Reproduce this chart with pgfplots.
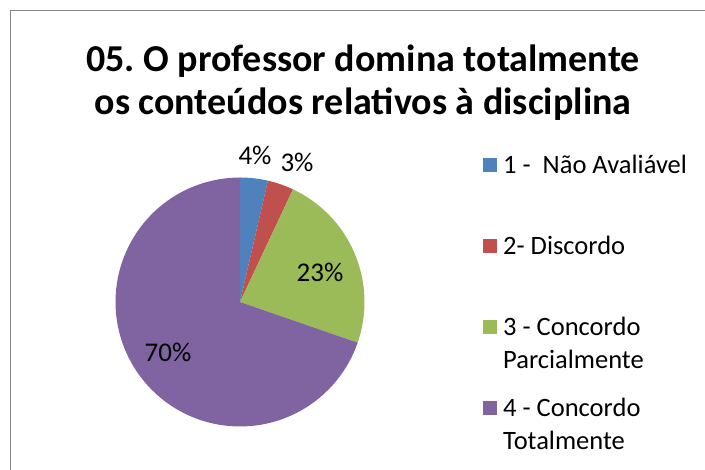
\documentclass[border=0pt]{standalone}
\usepackage{fontspec}
\setmainfont{Carlito}
\usepackage{pgfplots}
\pgfplotsset{compat=1.18}
\definecolor{c1}{HTML}{4F81BD}
\definecolor{c2}{HTML}{C0504D}
\definecolor{c3}{HTML}{9BBB59}
\definecolor{c4}{HTML}{8064A2}
\definecolor{framegray}{HTML}{868686}
\newcommand{\lent}[2]{\begin{tabular}[t]{@{}l@{}}#1\\#2\end{tabular}}
\begin{document}
\frenchspacing
\begin{tikzpicture}
\begin{axis}[at={(0,0)}, anchor=south west, scale only axis,
  x=1pt, y=1pt, xmin=0, xmax=705, ymin=0, ymax=470,
  hide axis, clip=false,
  legend style={draw=none, fill=none, at={(axis cs:483,316.6)}, anchor=north west,
    font=\fontsize{26.5}{33}\selectfont, row sep=21pt, inner sep=0pt,
    nodes={inner sep=0pt, text height=20pt, text depth=40pt},
    cells={anchor=base west}},
  legend cell align=left,
  legend image code/.code={\fill[#1] (0pt,11.5pt) rectangle (14pt,25.5pt);
    \path[draw=none, fill=none] (0pt,11.5pt) -- (20pt,11.5pt);},
]
\addplot[fill=c1, draw=none, domain=0:3.6, samples=10]
  ({240+124.5*sin(3.6*x)}, {168+124.5*cos(3.6*x)}) -- (axis cs:240,168) -- cycle;
\addlegendentry{1 -~ Não Avaliável}
\addplot[fill=c2, draw=none, domain=3.6:7.0, samples=10]
  ({240+124.5*sin(3.6*x)}, {168+124.5*cos(3.6*x)}) -- (axis cs:240,168) -- cycle;
\addlegendentry{2- Discordo}
\addplot[fill=c3, draw=none, domain=7.0:30.3, samples=40]
  ({240+124.5*sin(3.6*x)}, {168+124.5*cos(3.6*x)}) -- (axis cs:240,168) -- cycle;
\addlegendentry{\lent{3 - Concordo}{Parcialmente}}
\addplot[fill=c4, draw=none, domain=30.3:100, samples=100]
  ({240+124.5*sin(3.6*x)}, {168+124.5*cos(3.6*x)}) -- (axis cs:240,168) -- cycle;
\addlegendentry{\lent{4 - Concordo}{Totalmente}}
\addplot[draw=none, mark=none, forget plot, nodes near coords,
  point meta=explicit symbolic,
  nodes near coords style={anchor=center, font=\fontsize{27}{32}\selectfont, inner sep=0pt}]
  coordinates {(255,315)[4\%] (297,308)[3\%] (320,198)[23\%] (168,118)[70\%]};
\node[align=center, font=\bfseries\fontsize{38}{43}\selectfont] at (axis cs:363,387.5)
  {05. O professor domina totalmente\\os conteúdos relativos à disciplina};
\draw[framegray, line width=1.5pt] (axis cs:10.5,0) -- (axis cs:10.5,459.5) -- (axis cs:705,459.5);
\end{axis}
\pgfresetboundingbox
\useasboundingbox (0,0) rectangle (705pt,470pt);
\end{tikzpicture}
\end{document}
